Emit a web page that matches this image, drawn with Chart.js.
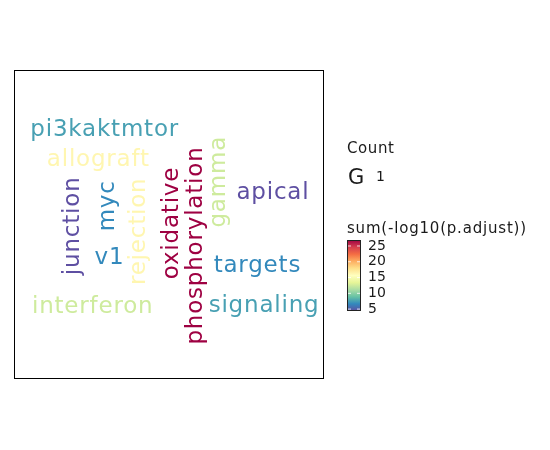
<!DOCTYPE html>
<html>
<head>
<meta charset="utf-8">
<script src="https://cdn.jsdelivr.net/npm/chart.js@4.4.1/dist/chart.umd.min.js"></script>
<style>
  html, body { margin: 0; padding: 0; background: #fff; }
  #wrap { width: 550px; height: 450px; }
</style>
</head>
<body>
<div id="wrap"><canvas id="cloud"></canvas></div>
<script>
// word cloud terms, position in panel (0-100), rotation and score
const words = ["pi3kaktmtor", "allograft", "junction", "myc", "v1", "rejection", "oxidative",
  "phosphorylation", "gamma", "apical", "targets", "interferon", "signaling"];
const xPos = [29.4, 27.1, 19.0, 31.0, 30.3, 40.0, 50.0, 58.7, 66.8, 83.2, 78.1, 25.2, 80.3];
const yPos = [80.6, 70.9, 48.9, 56.0, 40.1, 47.6, 50.2, 43.0, 63.4, 60.2, 36.6, 24.3, 23.9];
const vertical = [false, false, true, true, false, true, true, true, true, false, false, false, false];
const scores = [7.6, 16.3, 4.4, 6.7, 6.7, 16.3, 26.9, 26.9, 12.5, 4.4, 6.7, 12.5, 7.6];
const colorTicks = [5, 10, 15, 20, 25];
const scoreMin = 4.4, scoreMax = 26.9;

const spectral = ["#5E4FA2", "#3288BD", "#66C2A5", "#ABDDA4", "#E6F598", "#FFFFBF",
  "#FEE08B", "#FDAE61", "#F46D43", "#D53E4F", "#9E0142"];

function hexRgb(h) {
  return [parseInt(h.slice(1, 3), 16), parseInt(h.slice(3, 5), 16), parseInt(h.slice(5, 7), 16)];
}
function scoreColor(v) {
  let t = (v - scoreMin) / (scoreMax - scoreMin) * (spectral.length - 1);
  t = Math.max(0, Math.min(spectral.length - 1, t));
  const i = Math.min(Math.floor(t), spectral.length - 2);
  const f = t - i;
  const a = hexRgb(spectral[i]), b = hexRgb(spectral[i + 1]);
  const c = a.map((x, k) => Math.round(x + (b[k] - x) * f));
  return "rgb(" + c.join(",") + ")";
}

const FONT = "DejaVu Sans, sans-serif";

const wordPlugin = {
  id: "words",
  afterDatasetsDraw(chart) {
    const ctx = chart.ctx;
    const area = chart.chartArea;
    const meta = chart.getDatasetMeta(0);
    ctx.save();
    ctx.strokeStyle = "#000";
    ctx.lineWidth = 1;
    ctx.strokeRect(Math.round(area.left) + 0.5, Math.round(area.top) + 0.5,
      Math.round(area.right - area.left) - 1, Math.round(area.bottom - area.top) - 1);
    ctx.font = "23px " + FONT;
    ctx.letterSpacing = "0.8px";
    ctx.textAlign = "left";
    ctx.textBaseline = "alphabetic";
    meta.data.forEach((pt, i) => {
      const m = ctx.measureText(words[i]);
      const w = m.actualBoundingBoxLeft + m.actualBoundingBoxRight - 0.8;
      const h = m.actualBoundingBoxAscent + m.actualBoundingBoxDescent;
      ctx.save();
      ctx.translate(pt.x, pt.y);
      if (vertical[i]) ctx.rotate(-Math.PI / 2);
      ctx.fillStyle = scoreColor(scores[i]);
      ctx.fillText(words[i], -w / 2 + m.actualBoundingBoxLeft, -h / 2 + m.actualBoundingBoxAscent);
      ctx.restore();
    });

    // legends
    ctx.fillStyle = "#1a1a1a";
    ctx.letterSpacing = "0.6px";
    ctx.font = "15px " + FONT;
    ctx.fillText("Count", 347, 153);
    ctx.letterSpacing = "0px";
    ctx.font = "21px " + FONT;
    ctx.fillText("G", 348, 184);
    ctx.font = "14px " + FONT;
    ctx.fillText("1", 376, 181);
    ctx.letterSpacing = "0.8px";
    ctx.font = "15px " + FONT;
    ctx.fillText("sum(-log10(p.adjust))", 347, 233);

    const bx = 347, bw = 14, by = 240, bh = 71;
    const grad = ctx.createLinearGradient(0, by + bh, 0, by);
    spectral.forEach((c, k) => grad.addColorStop(k / (spectral.length - 1), c));
    ctx.fillStyle = grad;
    ctx.fillRect(bx, by, bw, bh);
    ctx.strokeStyle = "#222";
    ctx.lineWidth = 1;
    ctx.strokeRect(bx + 0.5, by + 0.5, bw - 1, bh - 1);
    ctx.letterSpacing = "0px";
    ctx.font = "14px " + FONT;
    ctx.textBaseline = "middle";
    colorTicks.forEach(v => {
      const y = by + bh - (v - scoreMin) / (scoreMax - scoreMin) * bh;
      ctx.strokeStyle = "rgba(255,255,255,0.8)";
      ctx.beginPath();
      ctx.moveTo(bx + 1, y); ctx.lineTo(bx + 4, y);
      ctx.moveTo(bx + bw - 4, y); ctx.lineTo(bx + bw - 1, y);
      ctx.stroke();
      ctx.fillStyle = "#1a1a1a";
      ctx.fillText(String(v), 368, y);
    });
    ctx.restore();
  }
};

new Chart(document.getElementById("cloud").getContext("2d"), {
  type: "scatter",
  data: {
    datasets: [{
      label: "terms",
      data: words.map((w, i) => ({ x: xPos[i], y: yPos[i] })),
      pointRadius: 0,
      pointHoverRadius: 0
    }]
  },
  options: {
    responsive: true,
    maintainAspectRatio: false,
    animation: false,
    layout: { padding: { left: 14, top: 70, right: 226, bottom: 71 } },
    plugins: { legend: { display: false }, tooltip: { enabled: false } },
    scales: {
      x: { display: false, min: 0, max: 100 },
      y: { display: false, min: 0, max: 100 }
    }
  },
  plugins: [wordPlugin]
});
</script>
</body>
</html>
